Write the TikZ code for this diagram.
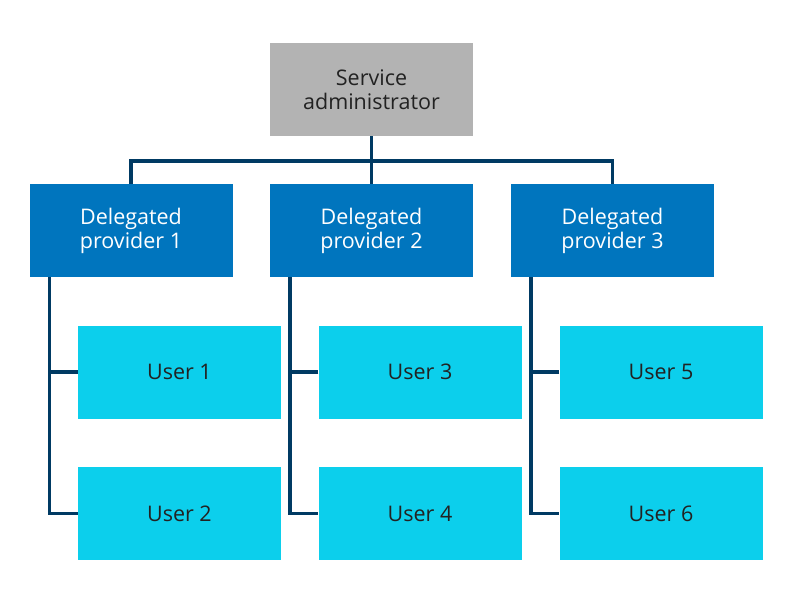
\documentclass[tikz,border=0pt]{standalone}
\usepackage{fontspec}
\setmainfont{Open Sans}
\definecolor{admingray}{HTML}{B3B3B3}
\definecolor{provblue}{HTML}{0075BE}
\definecolor{usercyan}{HTML}{0CCFEC}
\definecolor{linenavy}{HTML}{003A63}
\definecolor{textdark}{HTML}{222222}
\tikzset{
  box/.style={minimum width=203pt, minimum height=93pt, inner sep=0pt, align=center,
    font=\fontsize{21.5}{24}\selectfont},
  adminbox/.style={box, fill=admingray, text=textdark},
  provbox/.style={box, fill=provblue, text=white},
  userbox/.style={box, fill=usercyan, text=textdark},
  link/.style={draw=linenavy, line width=3.6pt}
}
\begin{document}
\begin{tikzpicture}[x=1pt,y=-1pt]
\useasboundingbox (0,0) rectangle (800,607);
\node[adminbox](admin) at (371.5,89.5) {Service\\administrator};
\node[provbox](dp1) at (131,230.5) {Delegated\\provider 1};
\node[provbox](dp2) at (371.5,230.5) {Delegated\\provider 2};
\node[provbox](dp3) at (612.5,230.5) {Delegated\\provider 3};
%
\node[userbox](u1) at (179.5,372) {User 1};
\node[userbox](u2) at (179.5,513.5) {User 2};
\node[userbox](u3) at (420,372) {User 3};
\node[userbox](u4) at (420,513.5) {User 4};
\node[userbox](u5) at (661,372) {User 5};
\node[userbox](u6) at (661,513.5) {User 6};
%
\coordinate(bus) at (371.5,161);
\draw[link](admin.south) -- (dp2.north);
\draw[link](dp1.north) |- (bus) -| (dp3.north);
%
\foreach \p/\a/\b in {1/u1/u2,2/u3/u4,3/u5/u6}{
  \coordinate(spine\p) at ([xshift=20pt]dp\p.south west);
  \draw[link](spine\p) |- (\b.west);
  \draw[link](\a.west) -- (\a.west -| spine\p);
}
\end{tikzpicture}
\end{document}
